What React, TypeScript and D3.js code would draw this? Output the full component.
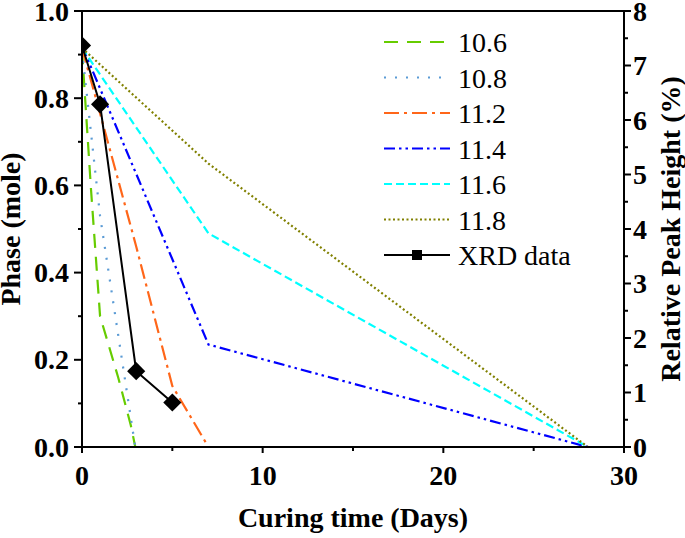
import React, { useEffect, useRef } from 'react';
import * as d3 from 'd3';

// curing time (days) vs phase (mole)
const seriesNames = ['10.6', '10.8', '11.2', '11.4', '11.6', '11.8'];
const seriesColors = ['#66cc00', '#5b9bd5', '#ff6619', '#0000ff', '#00ffff', '#808000'];
const seriesDashes = ['14,9', '2,9', '15,5,3,5', '11,4,2.5,4,2.5,4', '8,4', '2,2.5'];

const ph106: [number, number][] = [[0, 0.91], [0.5, 0.59], [1, 0.3], [2, 0.16], [2.7, 0.05], [2.95, 0], [30, 0]];
const ph108: [number, number][] = [[0, 0.91], [1, 0.53], [2.8, 0.04], [2.95, 0], [30, 0]];
const ph112: [number, number][] = [[0, 0.915], [1, 0.765], [3, 0.46], [5, 0.14], [7, 0], [30, 0]];
const ph114: [number, number][] = [[0, 0.92], [7, 0.235], [28, 0], [30, 0]];
const ph116: [number, number][] = [[0, 0.915], [7, 0.49], [28, 0], [30, 0]];
const ph118: [number, number][] = [[0, 0.915], [7, 0.65], [28, 0], [30, 0]];
const seriesData = [ph106, ph108, ph112, ph114, ph116, ph118];

const xrdDays = [0, 1, 3, 5];
const xrdPhase = [0.921, 0.786, 0.174, 0.102];

const xMajor = [0, 10, 20, 30];
const xMinor = [5, 15, 25];
const yMajor = [0, 0.2, 0.4, 0.6, 0.8, 1.0];
const yMinor = [0.1, 0.3, 0.5, 0.7, 0.9];
const y2Major = [0, 1, 2, 3, 4, 5, 6, 7, 8];
const y2Minor = [0.5, 1.5, 2.5, 3.5, 4.5, 5.5, 6.5, 7.5];

const FONT = 'Liberation Serif, Times New Roman, Times, DejaVu Serif, serif';

export default function App() {
  const svgRef = useRef<SVGSVGElement>(null);

  useEffect(() => {
    if (!svgRef.current) return;
    const svg = d3.select(svgRef.current);
    svg.selectAll('*').remove();

    const left = 82, right = 624, top = 11, bottom = 447;

    const x = d3.scaleLinear().domain([0, 30]).range([left, right]);
    const y = d3.scaleLinear().domain([0, 1]).range([bottom, top]);
    const y2 = d3.scaleLinear().domain([0, 8]).range([bottom, top]);

    svg.append('defs').append('clipPath').attr('id', 'plot-clip')
      .append('rect')
      .attr('x', left).attr('y', top)
      .attr('width', right - left).attr('height', bottom - top);

    const plot = svg.append('g').attr('clip-path', 'url(#plot-clip)');

    const line = d3.line<[number, number]>()
      .x(d => x(d[0]))
      .y(d => y(d[1]));

    seriesData.forEach((data, i) => {
      plot.append('path')
        .attr('d', line(data))
        .attr('fill', 'none')
        .attr('stroke', seriesColors[i])
        .attr('stroke-width', 2.2)
        .attr('stroke-dasharray', seriesDashes[i]);
    });

    // XRD points
    const xrd: [number, number][] = xrdDays.map((d, i) => [d, xrdPhase[i]]);
    plot.append('path')
      .attr('d', line(xrd))
      .attr('fill', 'none')
      .attr('stroke', '#000')
      .attr('stroke-width', 2);

    const diamond = d3.symbol().type(d3.symbolSquare).size(165);
    plot.selectAll('path.xrd')
      .data(xrd)
      .enter()
      .append('path')
      .attr('class', 'xrd')
      .attr('d', diamond)
      .attr('transform', d => `translate(${x(d[0])},${y(d[1])}) rotate(45)`)
      .attr('fill', '#000');

    // frame
    svg.append('rect')
      .attr('x', left).attr('y', top)
      .attr('width', right - left).attr('height', bottom - top)
      .attr('fill', 'none')
      .attr('stroke', '#000')
      .attr('stroke-width', 2);

    // ticks
    const tickG = svg.append('g').attr('stroke', '#000').attr('stroke-width', 2);
    xMajor.forEach(v => tickG.append('line').attr('x1', x(v)).attr('x2', x(v)).attr('y1', bottom).attr('y2', bottom + 6));
    xMinor.forEach(v => tickG.append('line').attr('x1', x(v)).attr('x2', x(v)).attr('y1', bottom).attr('y2', bottom + 4));
    yMajor.forEach(v => tickG.append('line').attr('x1', left - 8).attr('x2', left).attr('y1', y(v)).attr('y2', y(v)));
    yMinor.forEach(v => tickG.append('line').attr('x1', left - 4).attr('x2', left).attr('y1', y(v)).attr('y2', y(v)));
    y2Major.forEach(v => tickG.append('line').attr('x1', right).attr('x2', right + 7).attr('y1', y2(v)).attr('y2', y2(v)));
    y2Minor.forEach(v => tickG.append('line').attr('x1', right).attr('x2', right + 4).attr('y1', y2(v)).attr('y2', y2(v)));

    // tick labels
    const labels = svg.append('g')
      .style('font-family', FONT)
      .attr('font-weight', 'bold')
      .attr('font-size', 28)
      .attr('fill', '#000');

    xMajor.forEach(v => labels.append('text')
      .attr('x', x(v)).attr('y', bottom + 38)
      .attr('text-anchor', 'middle')
      .text(String(v)));

    yMajor.forEach(v => labels.append('text')
      .attr('x', left - 13).attr('y', y(v))
      .attr('dy', '0.34em')
      .attr('text-anchor', 'end')
      .text(d3.format('.1f')(v)));

    y2Major.forEach(v => labels.append('text')
      .attr('x', right + 9).attr('y', y2(v))
      .attr('dy', '0.34em')
      .attr('text-anchor', 'start')
      .text(String(v)));

    // axis titles
    const titles = svg.append('g')
      .style('font-family', FONT)
      .attr('font-weight', 'bold')
      .attr('font-size', 28)
      .attr('fill', '#000');

    titles.append('text')
      .attr('x', (left + right) / 2).attr('y', 527)
      .attr('text-anchor', 'middle')
      .text('Curing time (Days)');

    titles.append('text')
      .attr('transform', `translate(20,${(top + bottom) / 2}) rotate(-90)`)
      .attr('text-anchor', 'middle')
      .text('Phase (mole)');

    titles.append('text')
      .attr('transform', `translate(680,${(top + bottom) / 2}) rotate(-90)`)
      .attr('text-anchor', 'middle')
      .text('Relative Peak Height (%)');

    // legend
    const legend = svg.append('g')
      .style('font-family', FONT)
      .attr('font-size', 28);
    const rowY = (i: number) => 42 + i * 35.5;

    seriesNames.forEach((name, i) => {
      legend.append('line')
        .attr('x1', 384).attr('x2', 450)
        .attr('y1', rowY(i)).attr('y2', rowY(i))
        .attr('stroke', seriesColors[i])
        .attr('stroke-width', 2.2)
        .attr('stroke-dasharray', seriesDashes[i]);
      legend.append('text')
        .attr('x', 458).attr('y', rowY(i) + 10)
        .text(name);
    });

    const xi = seriesNames.length;
    legend.append('line')
      .attr('x1', 384).attr('x2', 450)
      .attr('y1', rowY(xi)).attr('y2', rowY(xi))
      .attr('stroke', '#000')
      .attr('stroke-width', 2);
    legend.append('rect')
      .attr('x', 412).attr('y', rowY(xi) - 5)
      .attr('width', 10).attr('height', 10)
      .attr('fill', '#000');
    legend.append('text')
      .attr('x', 458).attr('y', rowY(xi) + 10)
      .text('XRD data');
  }, []);

  return (
    <svg
      ref={svgRef}
      width={685}
      height={538}
      style={{ position: 'absolute', left: 0, top: 0, background: '#fff' }}
    />
  );
}
